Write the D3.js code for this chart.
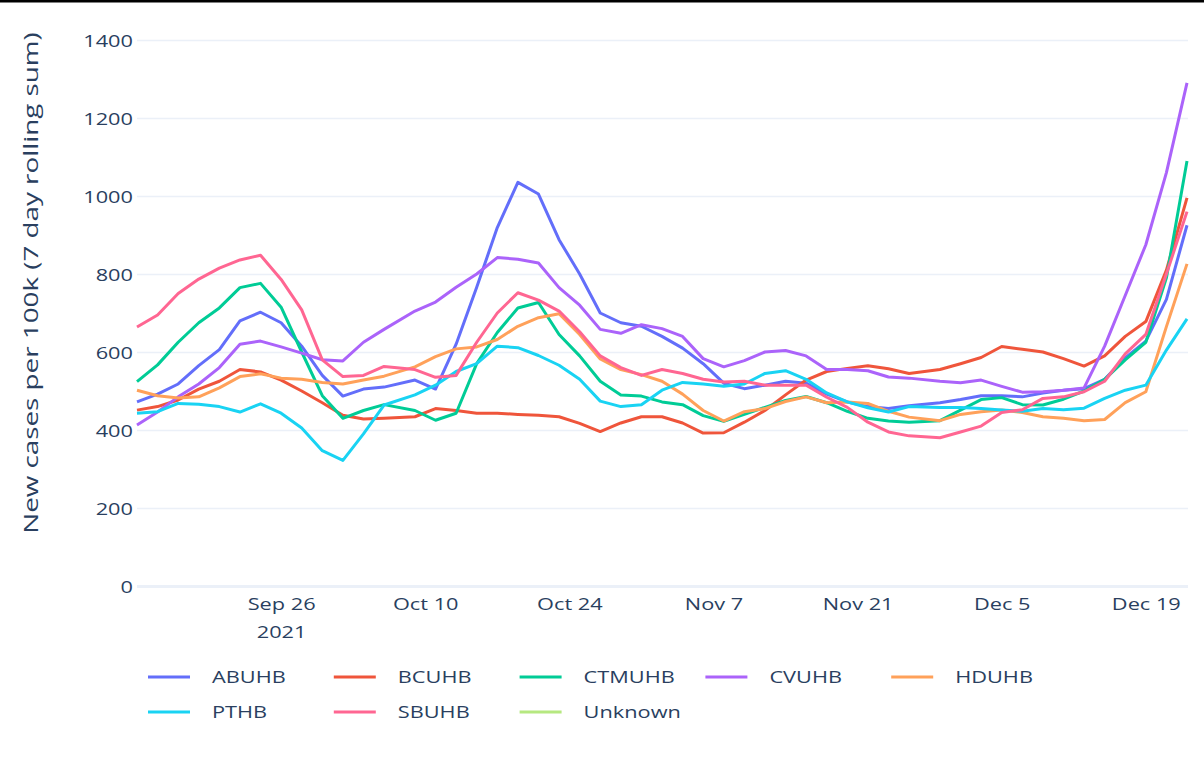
<!DOCTYPE html>
<html>
<head>
<meta charset="utf-8">
<script src="https://cdn.jsdelivr.net/npm/d3@7.9.0/dist/d3.min.js"></script>
<style>
  html, body { margin: 0; padding: 0; background: #fff; }
  svg { display: block; font-family: "Open Sans", sans-serif; }
</style>
</head>
<body>
<svg id="chart" width="1204" height="764"></svg>
<script>
/* =========================
   DATA
========================= */
const dates = [
  '2021-09-12', '2021-09-14', '2021-09-16', '2021-09-18', '2021-09-20', '2021-09-22',
  '2021-09-24', '2021-09-26', '2021-09-28', '2021-09-30', '2021-10-02', '2021-10-04',
  '2021-10-06', '2021-10-09', '2021-10-11', '2021-10-13', '2021-10-15', '2021-10-17',
  '2021-10-19', '2021-10-21', '2021-10-23', '2021-10-25', '2021-10-27', '2021-10-29',
  '2021-10-31', '2021-11-02', '2021-11-04', '2021-11-06', '2021-11-08', '2021-11-10',
  '2021-11-12', '2021-11-14', '2021-11-16', '2021-11-18', '2021-11-20', '2021-11-22',
  '2021-11-24', '2021-11-26', '2021-11-29', '2021-12-01', '2021-12-03', '2021-12-05',
  '2021-12-07', '2021-12-09', '2021-12-11', '2021-12-13', '2021-12-15', '2021-12-17',
  '2021-12-19', '2021-12-21', '2021-12-23'
];

const ABUHB = [472, 492, 518, 565, 606, 680, 702, 675, 615, 540, 487, 505, 510, 528, 505, 620, 766, 919, 1035, 1005,
  888, 800, 700, 675, 666, 640, 610, 570, 520, 506, 515, 525, 520, 492, 472, 460, 455, 462, 470, 478,
  488, 488, 485, 495, 502, 506, 530, 585, 628, 735, 925];
const BCUHB = [451, 460, 477, 505, 525, 555, 549, 528, 500, 470, 438, 428, 430, 434, 455, 450, 443, 443, 440, 438,
  434, 417, 396, 418, 434, 434, 418, 392, 393, 420, 450, 490, 528, 550, 558, 565, 557, 545, 555, 570,
  586, 614, 607, 600, 583, 564, 590, 640, 678, 810, 995];
const CTMUHB = [524, 567, 625, 675, 713, 765, 776, 715, 600, 488, 430, 450, 465, 450, 425, 443, 570, 650, 713, 727,
  645, 590, 525, 490, 487, 472, 465, 437, 422, 440, 458, 476, 486, 470, 448, 430, 423, 420, 424, 451,
  478, 483, 465, 464, 479, 500, 530, 580, 625, 790, 1090];
const CVUHB = [413, 446, 485, 518, 560, 620, 628, 613, 597, 580, 577, 625, 658, 705, 728, 766, 800, 842, 838, 828,
  765, 720, 658, 648, 670, 660, 640, 583, 562, 578, 600, 604, 590, 555, 555, 552, 536, 533, 525, 521,
  528, 512, 497, 498, 502, 508, 615, 745, 875, 1060, 1290];
const HDUHB = [502, 488, 482, 485, 508, 537, 544, 533, 530, 522, 518, 528, 538, 562, 588, 608, 613, 632, 666, 688,
  698, 645, 582, 555, 542, 525, 492, 450, 423, 447, 455, 473, 485, 470, 472, 468, 448, 433, 424, 440,
  447, 451, 445, 434, 430, 424, 427, 470, 498, 665, 826];
const PTHB = [443, 447, 468, 466, 460, 446, 467, 443, 405, 347, 322, 390, 464, 490, 515, 550, 570, 615, 611, 591,
  566, 530, 474, 460, 465, 502, 522, 518, 512, 518, 545, 552, 530, 495, 472, 457, 446, 460, 458, 458,
  455, 451, 448, 455, 452, 456, 481, 502, 515, 605, 685];
const SBUHB = [664, 695, 750, 787, 815, 836, 848, 786, 708, 580, 537, 540, 563, 555, 535, 540, 625, 700, 752, 733,
  705, 652, 590, 560, 540, 555, 545, 530, 523, 525, 515, 515, 515, 484, 458, 420, 395, 385, 380, 395,
  410, 445, 452, 481, 485, 498, 525, 595, 645, 800, 960];
const Unknown = [];

const seriesNames = ['ABUHB', 'BCUHB', 'CTMUHB', 'CVUHB', 'HDUHB', 'PTHB', 'SBUHB', 'Unknown'];
const seriesValues = [ABUHB, BCUHB, CTMUHB, CVUHB, HDUHB, PTHB, SBUHB, Unknown];
const seriesColors = ['#636efa', '#EF553B', '#00cc96', '#ab63fa', '#FFA15A', '#19d3f3', '#FF6692', '#B6E880'];

const yTicks = [0, 200, 400, 600, 800, 1000, 1200, 1400];
const xTickDates = ['2021-09-26', '2021-10-10', '2021-10-24', '2021-11-07', '2021-11-21', '2021-12-05', '2021-12-19'];
const xTickLabels = ['Sep 26', 'Oct 10', 'Oct 24', 'Nov 7', 'Nov 21', 'Dec 5', 'Dec 19'];
const yTitle = 'New cases per 100k (7 day rolling sum)';

/* =========================
   SETUP
========================= */
const parse = d3.timeParse('%Y-%m-%d');
const textColor = '#2a3f5f';
const stretch = 1.28;   // text in the picture is wider than the font

const svg = d3.select('#chart');

const plot = { left: 137, right: 1187, top: 40, bottom: 586 };

const xScale = d3.scaleTime()
  .domain([parse('2021-09-12'), parse('2021-12-23')])
  .range([plot.left, plot.right]);

const yScale = d3.scaleLinear()
  .domain([0, 1400])
  .range([plot.bottom, plot.top]);

/* top rule */
svg.append('rect')
  .attr('x', 0).attr('y', 0)
  .attr('width', 1204).attr('height', 2.5)
  .attr('fill', '#000');

/* =========================
   GRID
========================= */
const grid = svg.append('g')
  .attr('transform', `translate(${plot.left},0)`)
  .call(d3.axisLeft(yScale).tickValues(yTicks).tickSize(-(plot.right - plot.left + 1)).tickFormat(''));
grid.select('.domain').remove();
grid.selectAll('line')
  .attr('stroke', '#EBF0F8')
  .attr('stroke-width', d => d === 0 ? 2.8 : 1.4);

/* Y AXIS labels */
const yAxis = svg.append('g')
  .attr('transform', `translate(133,0)`)
  .call(d3.axisLeft(yScale).tickValues(yTicks).tickSize(0).tickPadding(0).tickFormat(d => String(d)));
yAxis.select('.domain').remove();
yAxis.selectAll('text')
  .attr('x', 0)
  .attr('dy', '0.36em')
  .attr('transform', `scale(${stretch},1)`)
  .attr('fill', textColor)
  .style('font-size', '17px')
  .style('font-family', '"Open Sans", sans-serif');

/* X AXIS labels */
const xAxis = svg.append('g')
  .attr('transform', `translate(0,${plot.bottom})`)
  .call(d3.axisBottom(xScale)
    .tickValues(xTickDates.map(parse))
    .tickSize(0)
    .tickFormat((d, i) => xTickLabels[i]));
xAxis.select('.domain').remove();
xAxis.selectAll('text')
  .attr('y', 24)
  .attr('dy', 0)
  .attr('transform', `scale(${stretch},1)`)
  .attr('fill', textColor)
  .style('font-size', '17px')
  .style('font-family', '"Open Sans", sans-serif');
xAxis.select('.tick text')
  .append('tspan')
  .attr('x', 0).attr('dy', 28)
  .text('2021');

/* Y title */
svg.append('text')
  .attr('transform', `translate(38,283) rotate(-90) scale(1.39,1)`)
  .attr('text-anchor', 'middle')
  .attr('fill', textColor)
  .style('font-size', '20px')
  .text(yTitle);

/* =========================
   LINES
========================= */
const line = d3.line()
  .x((d, i) => xScale(parse(dates[i])))
  .y(d => yScale(d));

svg.append('g')
  .selectAll('path')
  .data(seriesValues.filter(v => v.length))
  .join('path')
  .attr('d', d => line(d))
  .attr('fill', 'none')
  .attr('stroke', (d, i) => seriesColors[i])
  .attr('stroke-width', 3)
  .attr('stroke-linejoin', 'round');

/* =========================
   LEGEND
========================= */
const legend = svg.append('g');
seriesNames.forEach((name, i) => {
  const col = i % 5;
  const row = Math.floor(i / 5);
  const g = legend.append('g')
    .attr('transform', `translate(${148 + col * 185.8},${677 + row * 35})`);
  g.append('line')
    .attr('x1', 0).attr('x2', 42)
    .attr('y1', 0).attr('y2', 0)
    .attr('stroke', seriesColors[i])
    .attr('stroke-width', 3);
  g.append('text')
    .attr('x', 64 / stretch)
    .attr('dy', '0.36em')
    .attr('transform', `scale(${stretch},1)`)
    .attr('fill', textColor)
    .style('font-size', '17px')
    .text(name);
});
</script>
</body>
</html>
